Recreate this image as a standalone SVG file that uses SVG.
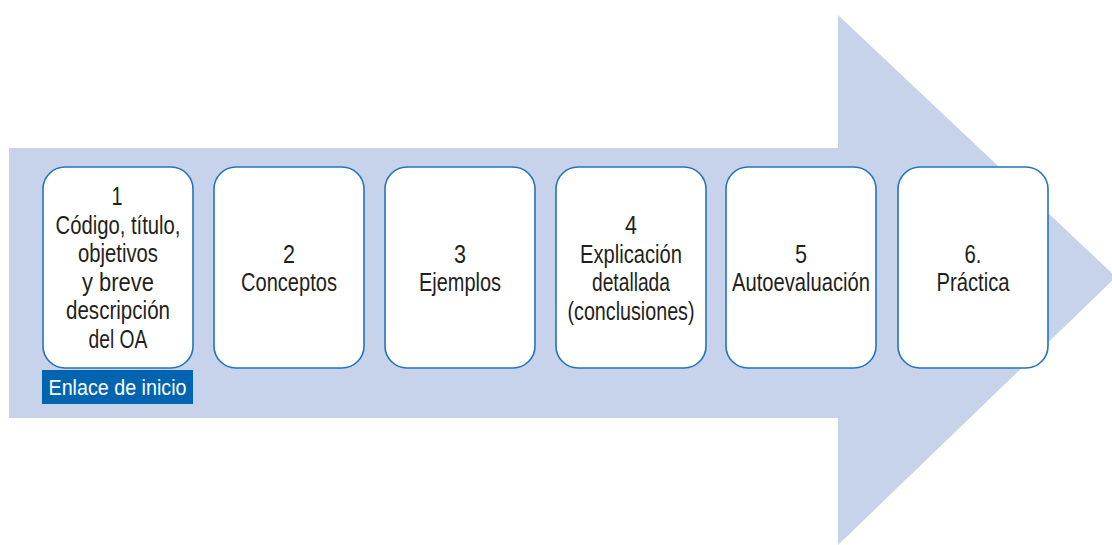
<svg xmlns="http://www.w3.org/2000/svg" width="1112" height="545" viewBox="0 0 1112 545">
  <style>
    .step { fill: #ffffff; stroke: #2474bc; stroke-width: 1.6; }
    .lbl { font-family: "Liberation Sans Narrow", "Liberation Sans", sans-serif; font-size: 25px; fill: #231f20; text-anchor: middle; }
    .link { fill: #0064b0; }
    .link-text { font-family: "Liberation Sans Narrow", "Liberation Sans", sans-serif; font-size: 22.5px; fill: #ffffff; text-anchor: middle; }
  </style>
  <rect width="1112" height="545" fill="#ffffff"/>

  <!-- background process arrow -->
  <g id="arrow">
    <polygon points="9,148 838,148 838,15 1116,277 838,545 838,418 9,418" fill="#c7d3ea"/>
  </g>

  <g id="connectors"></g>

  <!-- condensed lettering: widths fixed per line -->
  <g id="step1">
    <rect class="step" x="43" y="167" width="150" height="201" rx="22"/>
    <text class="lbl" x="117" y="205" textLength="11" lengthAdjust="spacingAndGlyphs">1</text>
    <text class="lbl" x="118" y="233.5" textLength="125" lengthAdjust="spacingAndGlyphs">Código, título,</text>
    <text class="lbl" x="118" y="262" textLength="80" lengthAdjust="spacingAndGlyphs">objetivos</text>
    <text class="lbl" x="118" y="290.5" textLength="72" lengthAdjust="spacingAndGlyphs">y breve</text>
    <text class="lbl" x="118" y="319" textLength="104" lengthAdjust="spacingAndGlyphs">descripción</text>
    <text class="lbl" x="118" y="347.5" textLength="59" lengthAdjust="spacingAndGlyphs">del OA</text>
  </g>

  <g id="start-link">
    <rect class="link" x="42" y="370" width="151" height="34"/>
    <text class="link-text" x="117.5" y="395" textLength="138" lengthAdjust="spacingAndGlyphs">Enlace de inicio</text>
  </g>

  <g id="step2">
    <rect class="step" x="214" y="167" width="150" height="201" rx="22"/>
    <text class="lbl" x="289" y="262.5" textLength="12" lengthAdjust="spacingAndGlyphs">2</text>
    <text class="lbl" x="289" y="291" textLength="96" lengthAdjust="spacingAndGlyphs">Conceptos</text>
  </g>

  <g id="step3">
    <rect class="step" x="385" y="167" width="150" height="201" rx="22"/>
    <text class="lbl" x="460" y="262.5" textLength="12" lengthAdjust="spacingAndGlyphs">3</text>
    <text class="lbl" x="460" y="291" textLength="82" lengthAdjust="spacingAndGlyphs">Ejemplos</text>
  </g>

  <g id="step4">
    <rect class="step" x="556" y="167" width="150" height="201" rx="22"/>
    <text class="lbl" x="631" y="234" textLength="12" lengthAdjust="spacingAndGlyphs">4</text>
    <text class="lbl" x="631" y="262.5" textLength="102" lengthAdjust="spacingAndGlyphs">Explicación</text>
    <text class="lbl" x="631" y="291" textLength="78" lengthAdjust="spacingAndGlyphs">detallada</text>
    <text class="lbl" x="631" y="319.5" textLength="127" lengthAdjust="spacingAndGlyphs">(conclusiones)</text>
  </g>

  <g id="step5">
    <rect class="step" x="726" y="167" width="150" height="201" rx="22"/>
    <text class="lbl" x="801" y="262.5" textLength="12" lengthAdjust="spacingAndGlyphs">5</text>
    <text class="lbl" x="801" y="291" textLength="138" lengthAdjust="spacingAndGlyphs">Autoevaluación</text>
  </g>

  <g id="step6">
    <rect class="step" x="898" y="167" width="150" height="201" rx="22"/>
    <text class="lbl" x="973" y="262.5" textLength="17" lengthAdjust="spacingAndGlyphs">6.</text>
    <text class="lbl" x="973" y="291" textLength="73" lengthAdjust="spacingAndGlyphs">Práctica</text>
  </g>
</svg>
